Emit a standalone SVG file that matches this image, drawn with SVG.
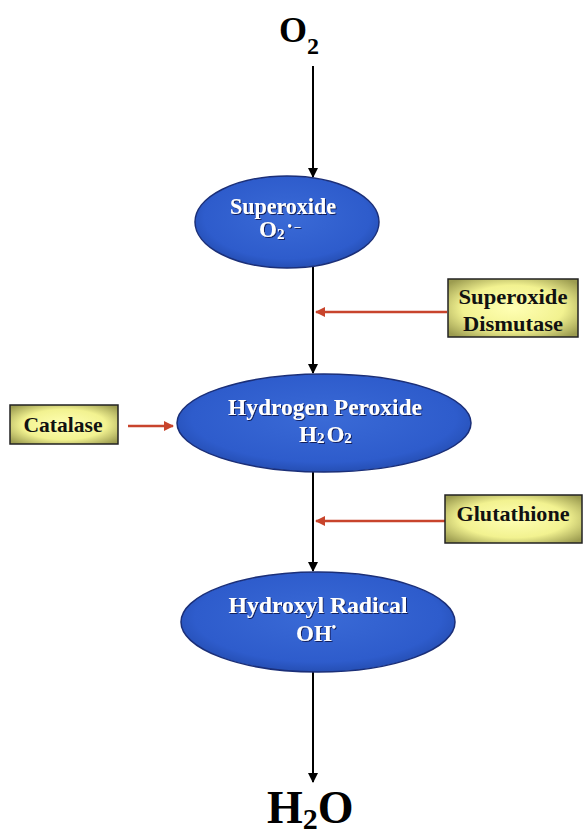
<svg xmlns="http://www.w3.org/2000/svg" width="585" height="835" viewBox="0 0 585 835">
<style>
.formula{font-family:"Liberation Serif","Times New Roman",serif;font-weight:bold;fill:#000}
.ell{fill:url(#blueGrad);stroke:#1b2f78;stroke-width:1.5}
.etxt{font-family:"Liberation Serif","Times New Roman",serif;font-weight:bold;fill:#ffffff;font-size:23px;filter:url(#shadow)}
.box{fill:url(#yelGrad);stroke:#222;stroke-width:1.5}
.btxt{font-family:"Liberation Serif","Times New Roman",serif;font-weight:bold;fill:#111;font-size:22px}
.main{stroke:#000;stroke-width:2;fill:none;marker-end:url(#blackHead)}
.enz{stroke:#c8442c;stroke-width:2.5;fill:none;marker-end:url(#redHead)}
</style>
<defs>
<radialGradient id="blueGrad" cx="50%" cy="45%" r="60%">
<stop offset="0" stop-color="#3a6ad6"/>
<stop offset="0.75" stop-color="#2e5ccc"/>
<stop offset="1" stop-color="#2148a8"/>
</radialGradient>
<radialGradient id="yelGrad" cx="50%" cy="50%" r="65%">
<stop offset="0" stop-color="#ffffb4"/>
<stop offset="0.6" stop-color="#f2f290"/>
<stop offset="1" stop-color="#9c9c50"/>
</radialGradient>
<filter id="shadow" x="-10%" y="-30%" width="120%" height="160%">
<feDropShadow dx="1" dy="1" stdDeviation="0.6" flood-color="#0a1850" flood-opacity="0.9"/>
</filter>
<marker id="blackHead" viewBox="0 0 10 10" refX="9" refY="5" markerWidth="5" markerHeight="5" orient="auto" markerUnits="strokeWidth">
<path d="M0,0 L10,5 L0,10 z" fill="#000"/>
</marker>
<marker id="redHead" viewBox="0 0 10 10" refX="9" refY="5" markerWidth="4" markerHeight="4" orient="auto" markerUnits="strokeWidth">
<path d="M0,0 L10,5 L0,10 z" fill="#c8442c"/>
</marker>
</defs>

<g id="connectors">
<line class="main" x1="313" y1="66" x2="313" y2="177"/>
<line class="main" x1="313" y1="267" x2="313" y2="373"/>
<line class="main" x1="313" y1="472" x2="313" y2="571"/>
<line class="main" x1="313" y1="672" x2="313" y2="782"/>
<line class="enz" x1="447" y1="312" x2="316" y2="312"/>
<line class="enz" x1="128" y1="426" x2="173" y2="426"/>
<line class="enz" x1="445" y1="521" x2="316" y2="521"/>
</g>

<g id="o2">
<text class="formula" x="279" y="42" font-size="36">O<tspan font-size="24" dy="12">2</tspan></text>
</g>

<g id="superoxide">
<ellipse class="ell" cx="287" cy="222" rx="92" ry="46"/>
<text class="etxt" x="283" y="214" text-anchor="middle" textLength="106" lengthAdjust="spacingAndGlyphs">Superoxide</text>
<text class="etxt" x="259" y="237">O<tspan font-size="15" dy="2">2</tspan><tspan font-size="12" dy="-9" dx="3">• –</tspan></text>
</g>

<g id="hydrogen-peroxide">
<ellipse class="ell" cx="324" cy="423" rx="147" ry="49"/>
<text class="etxt" x="325" y="415" text-anchor="middle" textLength="194" lengthAdjust="spacingAndGlyphs">Hydrogen Peroxide</text>
<text class="etxt" x="299" y="442">H<tspan font-size="15" dy="1">2</tspan><tspan dy="-1" dx="2">O</tspan><tspan font-size="15" dy="1">2</tspan></text>
</g>

<g id="hydroxyl-radical">
<ellipse class="ell" cx="318" cy="622" rx="137" ry="50"/>
<text class="etxt" x="318" y="613" text-anchor="middle" textLength="179" lengthAdjust="spacingAndGlyphs">Hydroxyl Radical</text>
<text class="etxt" x="296" y="641">OH<tspan font-size="12" dy="-10">•</tspan></text>
</g>

<g id="h2o">
<text class="formula" x="267" y="823" font-size="46">H<tspan font-size="30" dy="6">2</tspan><tspan dy="-6">O</tspan></text>
</g>

<g id="superoxide-dismutase">
<rect class="box" x="448" y="279" width="130" height="58"/>
<text class="btxt" x="513" y="304" text-anchor="middle" textLength="109" lengthAdjust="spacingAndGlyphs">Superoxide</text>
<text class="btxt" x="513" y="331" text-anchor="middle" textLength="100" lengthAdjust="spacingAndGlyphs">Dismutase</text>
</g>

<g id="catalase">
<rect class="box" x="10" y="405" width="108" height="39"/>
<text class="btxt" x="63" y="432" text-anchor="middle" font-size="20" textLength="79" lengthAdjust="spacingAndGlyphs">Catalase</text>
</g>

<g id="glutathione">
<rect class="box" x="445" y="495" width="137" height="48"/>
<text class="btxt" x="513" y="521" text-anchor="middle" textLength="113" lengthAdjust="spacingAndGlyphs">Glutathione</text>
</g>
</svg>
